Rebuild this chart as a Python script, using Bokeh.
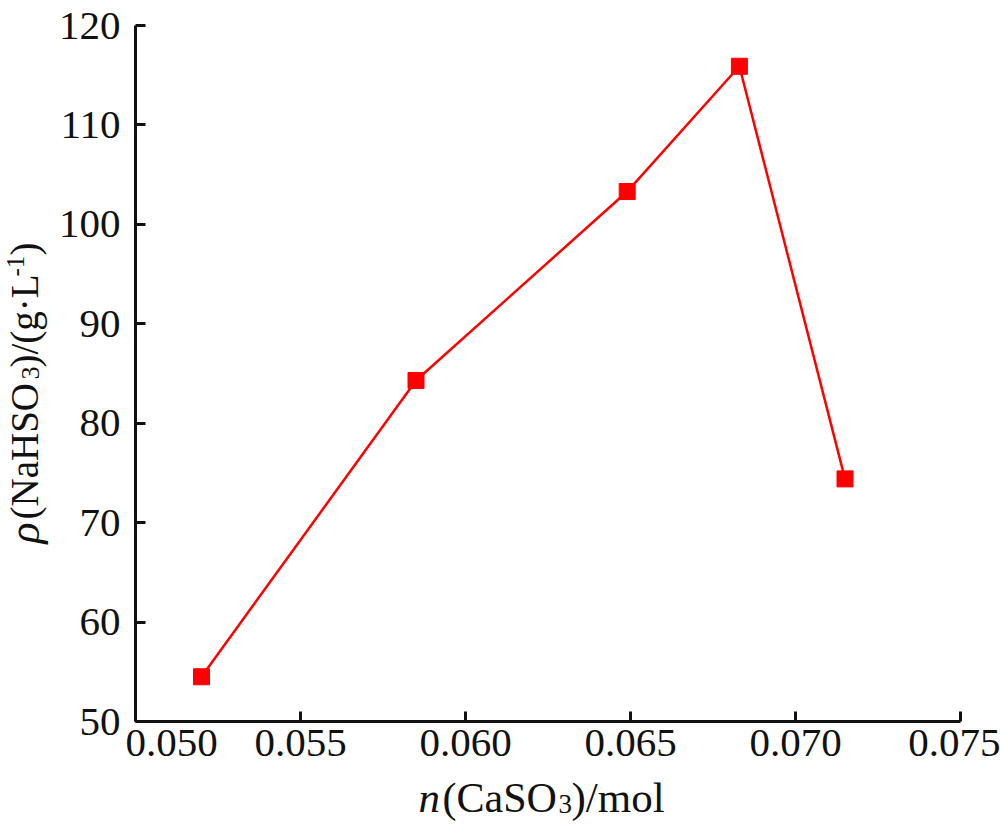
import math
from bokeh.plotting import figure
from bokeh.models import Label, FixedTicker, CustomJSTickFormatter, Range1d
from bokeh.embed import file_html
from bokeh.resources import INLINE

# ---- data ----
n_caso3 = [0.0520, 0.0585, 0.0649, 0.0683, 0.0715]
rho_nahso3 = [54.5, 84.3, 103.3, 115.9, 74.4]
x_ticks = [0.050, 0.055, 0.060, 0.065, 0.070, 0.075]
y_ticks = [50, 60, 70, 80, 90, 100, 110, 120]

FONT = "Liberation Serif"
RED = "#FF0000"
INK = "#111111"

W, H = 1000, 833
# frame placement (pixels) of the axis box
LEFT, RIGHT, TOP, BOTTOM = 135, 960, 25, 721
xs = (RIGHT - LEFT) / (x_ticks[-1] - x_ticks[0])
ys = (BOTTOM - TOP) / (y_ticks[-1] - y_ticks[0])
x_range = Range1d(x_ticks[0] - LEFT / xs, x_ticks[-1] + (W - RIGHT) / xs)
y_range = Range1d(y_ticks[0] - (H - BOTTOM) / ys, y_ticks[-1] + TOP / ys)

p = figure(width=W, height=H, x_range=x_range, y_range=y_range,
           output_backend="svg", toolbar_location=None, title=None,
           min_border=0)
p.min_border_left = p.min_border_right = p.min_border_top = p.min_border_bottom = 0

p.outline_line_color = None
p.grid.visible = False
p.background_fill_color = "white"

for ax in (p.xaxis[0], p.yaxis[0]):
    ax.axis_line_width = 3
    ax.axis_line_color = INK
    ax.major_tick_in = 10
    ax.major_tick_out = 0
    ax.major_tick_line_width = 3
    ax.major_tick_line_color = INK
    ax.minor_tick_line_color = None
    ax.major_label_text_font = FONT
    ax.major_label_text_font_size = "41px"
    ax.major_label_text_color = INK

p.xaxis.fixed_location = y_ticks[0]
p.xaxis.bounds = (x_ticks[0], x_ticks[-1])
p.yaxis.fixed_location = x_ticks[0]
p.yaxis.bounds = (y_ticks[0], y_ticks[-1])

p.xaxis.ticker = FixedTicker(ticks=x_ticks)
p.yaxis.ticker = FixedTicker(ticks=y_ticks)
p.xaxis.formatter = CustomJSTickFormatter(code="return tick < 0.0501 ? '' : tick.toFixed(3);")
p.xaxis.major_label_standoff = 8
p.yaxis.major_label_standoff = 15

p.line(n_caso3, rho_nahso3, line_color=RED, line_width=2.5)
p.scatter(n_caso3, rho_nahso3, marker="square", size=16,
          fill_color=RED, line_color=RED)

x0, y0 = x_ticks[0], y_ticks[0]

def lab(text, xo, yo, size="41px", style="normal", angle=0.0, baseline="alphabetic", align="left"):
    p.add_layout(Label(x=x0, y=y0, x_offset=xo, y_offset=yo, text=text,
                       text_font=FONT, text_font_size=size, text_font_style=style,
                       text_color=INK, angle=angle,
                       text_align=align, text_baseline=baseline))

# shifted first x tick label
lab("0.050", 36, -8, baseline="top", align="center")

# x axis title: n(CaSO3)/mol
lab("n", 283, -76, size="43px", style="italic")
lab("(CaSO", 307, -76, size="42px")
lab("3", 423, -82, size="27px")
lab(")/mol", 436, -76, size="43px")

# y axis title: rho(NaHSO3)/(g.L-1)
A = math.pi / 2
lab("\u03c1", -111, 178, size="44px", style="italic", angle=A)
lab("(NaHSO", -111, 202, size="39px", angle=A)
lab("3", -105, 342, size="26px", angle=A)
lab(")/(g\u00b7L", -111, 354, size="39px", angle=A)
lab("-1", -120, 445, size="25px", angle=A)
lab(")", -111, 466, size="39px", angle=A)

open("out.html", "w").write(file_html(p, INLINE))
